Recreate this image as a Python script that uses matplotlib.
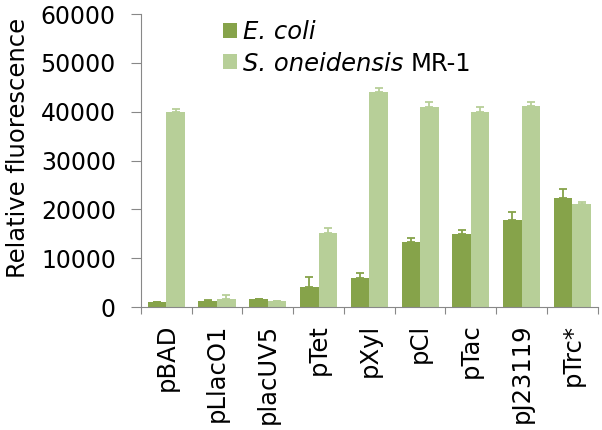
import matplotlib.pyplot as plt
import numpy as np

plt.rcParams['font.family'] = ['DejaVu Sans']

promotores = ['pBAD', 'pLlacO1', 'placUV5', 'pTet', 'pXyl', 'pCl', 'pTac', 'pJ23119', 'pTrc*']
ecoli = [1000, 1300, 1600, 4100, 5900, 13300, 15000, 17800, 22400]
ecoli_err = [0, 200, 0, 2000, 1100, 800, 800, 1700, 1700]
shew = [40000, 1700, 1200, 15200, 44000, 41000, 40000, 41200, 21100]
shew_err = [600, 800, 0, 1000, 900, 1100, 1000, 900, 400]

cor_e = '#86a34a'
cor_s = '#b7cf98'

fig = plt.figure(figsize=(6.02, 4.30), dpi=100)
ax = fig.add_axes([0.234, 0.286, 0.759, 0.681])

x = np.arange(len(promotores))
w = 0.365
ax.bar(x - w/2, ecoli, w, color=cor_e, label='E. coli')
ax.bar(x + w/2, shew, w, color=cor_s, label='S. oneidensis')
ax.errorbar(x - w/2, ecoli, yerr=[np.zeros(len(x)), ecoli_err], fmt='none',
            ecolor=cor_e, elinewidth=1.3, capsize=3, capthick=1.3)
ax.errorbar(x + w/2, shew, yerr=[np.zeros(len(x)), shew_err], fmt='none',
            ecolor=cor_s, elinewidth=1.3, capsize=3, capthick=1.3)

ax.set_xlim(-0.5, len(x) - 0.5)
ax.set_ylim(0, 60000)
ax.set_yticks(range(0, 60001, 10000))
ax.set_xticks(np.arange(-0.5, len(x), 1.0))
ax.set_xticklabels([])
ax.set_xticks(x, minor=True)
ax.set_xticklabels(promotores, minor=True, rotation=90, fontsize=17.5)
ax.tick_params(axis='x', which='minor', length=0, pad=12)
ax.tick_params(axis='x', which='major', length=5, color='#888888')
ax.tick_params(axis='y', labelsize=17, length=7, color='#888888', pad=11)
ax.set_ylabel('Relative fluorescence', fontsize=17.5)
ax.yaxis.set_label_coords(-0.243, 0.543)

for s in ['top', 'right']:
    ax.spines[s].set_visible(False)
for s in ['left', 'bottom']:
    ax.spines[s].set_color('#888888')

leg = ax.legend(loc='upper left', bbox_to_anchor=(223/602, 0.953), bbox_transform=fig.transFigure,
                frameon=False, fontsize=17.5, handlelength=0.58, handleheight=0.58,
                handletextpad=0.25, labelspacing=0.3, borderpad=0, borderaxespad=0)
for t in leg.get_texts():
    t.set_fontstyle('italic')

# "MR-1" em fonte normal logo depois do nome da especie
fig.canvas.draw()
bb = leg.get_texts()[1].get_window_extent()
px, py = fig.transFigure.inverted().transform((bb.x1 + 7, bb.y0))
fig.text(px, py, 'MR-1', va='bottom', ha='left', fontsize=17.5)

fig.savefig('out.png', dpi=100)
